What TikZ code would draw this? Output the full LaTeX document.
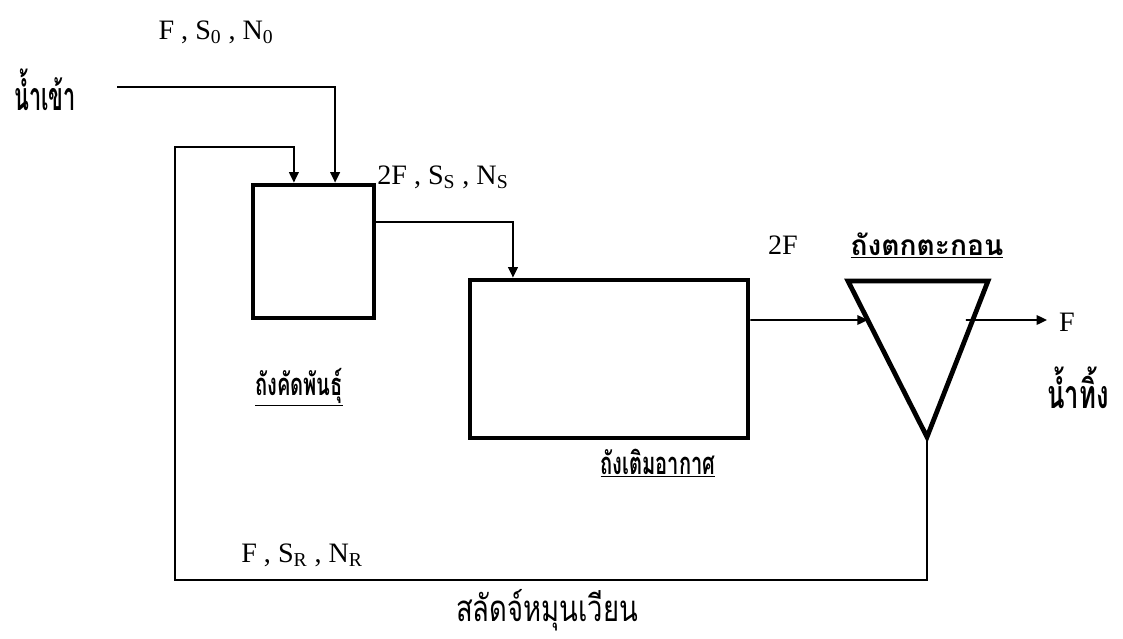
\documentclass[tikz,border=0pt]{standalone}
\usepackage{fontspec}
\setmainfont{Liberation Serif}
\newfontfamily\thaifont[Script=Thai,FakeStretch=0.65]{Loma}
\newfontfamily\thainarrow[Script=Thai,FakeStretch=0.55]{Loma}
\newfontfamily\thaimid[Script=Thai,FakeStretch=0.75]{Loma}
\newfontfamily\thaiwide[Script=Thai]{Loma}
\usetikzlibrary{arrows.meta,calc}
\tikzset{
  tank/.style={draw,line width=3.4pt,minimum width=#1,inner sep=0pt},
  flow/.style={line width=1.2pt,-{Triangle[length=2.6mm,width=2.4mm]}},
  lab/.style={font=\fontsize{20}{24}\selectfont,inner sep=0pt},
  thlab/.style={font=\thaifont\bfseries\fontsize{22}{26}\selectfont,inner sep=0pt,anchor=base},
}
\begin{document}
\begin{tikzpicture}[x=0.025cm,y=-0.025cm]
  \useasboundingbox (0,0) rectangle (1123,638);
  % tanks
  \node[tank=3.025cm,minimum height=3.325cm] (sel) at (313.5,251.5) {};
  \node[tank=6.95cm,minimum height=3.95cm] (aer) at (609,359) {};
  \coordinate (stl) at (848,281);
  \coordinate (str) at (988,281);
  \coordinate (sbot) at (927,437);
  \draw[line width=3.4pt,line join=miter] (stl) -- (str) -- (sbot) -- cycle;
  % free ends of the pipes
  \coordinate (in) at (117,87);
  \coordinate (out) at (1047,320);
  \coordinate (rbr) at (927,580);
  \coordinate (rbl) at (175,580);
  \coordinate (rtop) at (175,147);
  % labels
  \node[lab] (q0) at (216,32) {F , S\textsubscript{0} , N\textsubscript{0}};
  \node[lab,anchor=west] (qs) at (377,177) {2F , S\textsubscript{S} , N\textsubscript{S}};
  \node[lab] (q2) at (783,245) {2F};
  \node[lab] (qf) at (1067,322) {F};
  \node[lab] (qr) at (302,555) {F , S\textsubscript{R} , N\textsubscript{R}};
  \node[thlab,font=\thainarrow\bfseries\fontsize{28}{30}\selectfont] (inlab) at (45,110) {น้ำเข้า};
  \node[thlab] (sellab) at (299,395) {\underline{ถังคัดพันธุ์}};
  \node[thlab] (aerlab) at (658,474) {\underline{ถังเติมอากาศ}};
  \node[thlab,font=\thaiwide\bfseries\fontsize{20}{24}\selectfont] (setlab) at (927,255) {\underline{ถังตกตะกอน}};
  \node[thlab,font=\thaifont\bfseries\fontsize{28}{30}\selectfont] (outlab) at (1078,408) {น้ำทิ้ง};
  \node[thlab,font=\thaimid\fontsize{26}{30}\selectfont] (reclab) at (547,621) {สลัดจ์หมุนเวียน};
  % connectors
  \draw[flow] (in) -| ([xshift=0.54cm]sel.north);
  \draw[flow] (sbot) -- (rbr) -- (rbl) -- (rtop) -| ([xshift=-0.49cm]sel.north);
  \draw[flow] ([yshift=0.74cm]sel.east) -| ([xshift=-2.4cm]aer.north);
  \draw[flow] ([yshift=0.975cm]aer.east) -- ($(stl)!0.25!(sbot)$);
  \draw[flow] ($(str)!0.25!(sbot)+(-7,0)$) -- (out);
\end{tikzpicture}
\end{document}
